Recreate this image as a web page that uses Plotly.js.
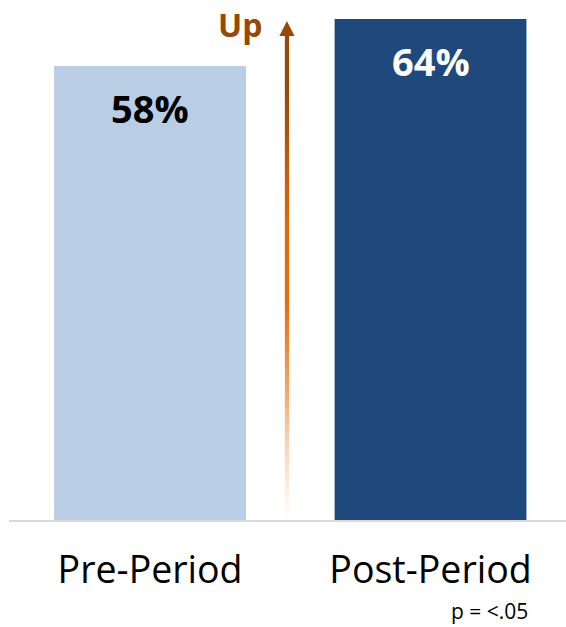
<!DOCTYPE html>
<html>
<head>
<meta charset="utf-8">
<script src="https://cdn.plot.ly/plotly-3.0.1.min.js"></script>
<style>
  html, body { margin: 0; padding: 0; background: #ffffff; }
  #chart { width: 566px; height: 627px; }
</style>
</head>
<body>
<div id="chart"></div>
<script>
// Share of respondents before and after the change
const categories = ["Pre-Period", "Post-Period"];
const values = [58, 64];
const barColors = ["#b9cde5", "#1f497d"];
const labelColors = ["#000000", "#ffffff"];
const trendLabel = "Up";
const significanceNote = "p = <.05";

const FONT = '"Open Sans", "Noto Sans", sans-serif';
const xPos = categories.map((_, i) => i);

// Upward arrow sitting between the two bars
const arrowX = (xPos[0] + xPos[1]) / 2 - 0.012;
const tipY = Math.max(...values) - 0.26;
const headBaseY = tipY - 1.9;
const shaftHalf = 0.0075;
const headHalf = 0.027;

const bars = {
  type: "bar",
  x: xPos,
  y: values,
  width: 0.684,
  marker: { color: barColors, line: { width: 0 } },
  hoverinfo: "skip",
  showlegend: false
};

const shaft = {
  type: "scatter",
  mode: "lines",
  x: [arrowX - shaftHalf, arrowX + shaftHalf, arrowX + shaftHalf, arrowX - shaftHalf, arrowX - shaftHalf],
  y: [0, 0, headBaseY + 0.1, headBaseY + 0.1, 0],
  fill: "toself",
  line: { width: 0, color: "rgba(0,0,0,0)" },
  fillgradient: {
    type: "vertical",
    colorscale: [
      [0.0, "rgba(252,213,180,0)"],
      [0.08, "rgba(251,205,170,0.45)"],
      [0.25, "rgba(245,172,118,1)"],
      [0.45, "rgba(228,108,10,1)"],
      [0.6, "rgba(226,107,9,1)"],
      [0.9, "rgba(152,72,7,1)"],
      [1.0, "rgba(152,72,7,1)"]
    ]
  },
  hoverinfo: "skip",
  showlegend: false
};

const head = {
  type: "scatter",
  mode: "lines",
  x: [arrowX - headHalf, arrowX + headHalf, arrowX, arrowX - headHalf],
  y: [headBaseY, headBaseY, tipY, headBaseY],
  fill: "toself",
  fillcolor: "#984807",
  line: { width: 0, color: "rgba(0,0,0,0)" },
  hoverinfo: "skip",
  showlegend: false
};

const valueLabels = values.map((v, i) => ({
  x: xPos[i],
  y: v,
  xref: "x",
  yref: "y",
  text: "<b>" + v + "%</b>",
  showarrow: false,
  xanchor: "center",
  yanchor: "top",
  yshift: -14,
  font: { family: FONT, size: 38, color: labelColors[i] }
}));

const layout = {
  width: 566,
  height: 627,
  margin: { l: 9, r: 0, t: 19, b: 107, pad: 0 },
  paper_bgcolor: "#ffffff",
  plot_bgcolor: "#ffffff",
  showlegend: false,
  xaxis: {
    type: "linear",
    range: [-0.503, 1.483],
    tickvals: xPos,
    ticktext: categories,
    showgrid: false,
    zeroline: false,
    showline: true,
    linecolor: "#d9d9d9",
    linewidth: 2,
    ticks: "",
    ticklabelstandoff: 16,
    tickfont: { family: FONT, size: 37.5, color: "#000000" },
    fixedrange: true
  },
  yaxis: {
    range: [0, 64],
    visible: false,
    fixedrange: true
  },
  annotations: valueLabels.concat([
    {
      x: 0.321,
      y: 63.3,
      xref: "x",
      yref: "y",
      text: "<b>" + trendLabel + "</b>",
      showarrow: false,
      xanchor: "center",
      yanchor: "middle",
      font: { family: FONT, size: 32, color: "#984807" }
    },
    {
      x: 0.935,
      y: -0.181,
      xref: "paper",
      yref: "paper",
      text: significanceNote,
      showarrow: false,
      xanchor: "right",
      yanchor: "middle",
      font: { family: FONT, size: 21, color: "#000000" }
    }
  ])
};

Plotly.newPlot("chart", [bars, shaft, head], layout, { staticPlot: true, displayModeBar: false });
</script>
</body>
</html>
